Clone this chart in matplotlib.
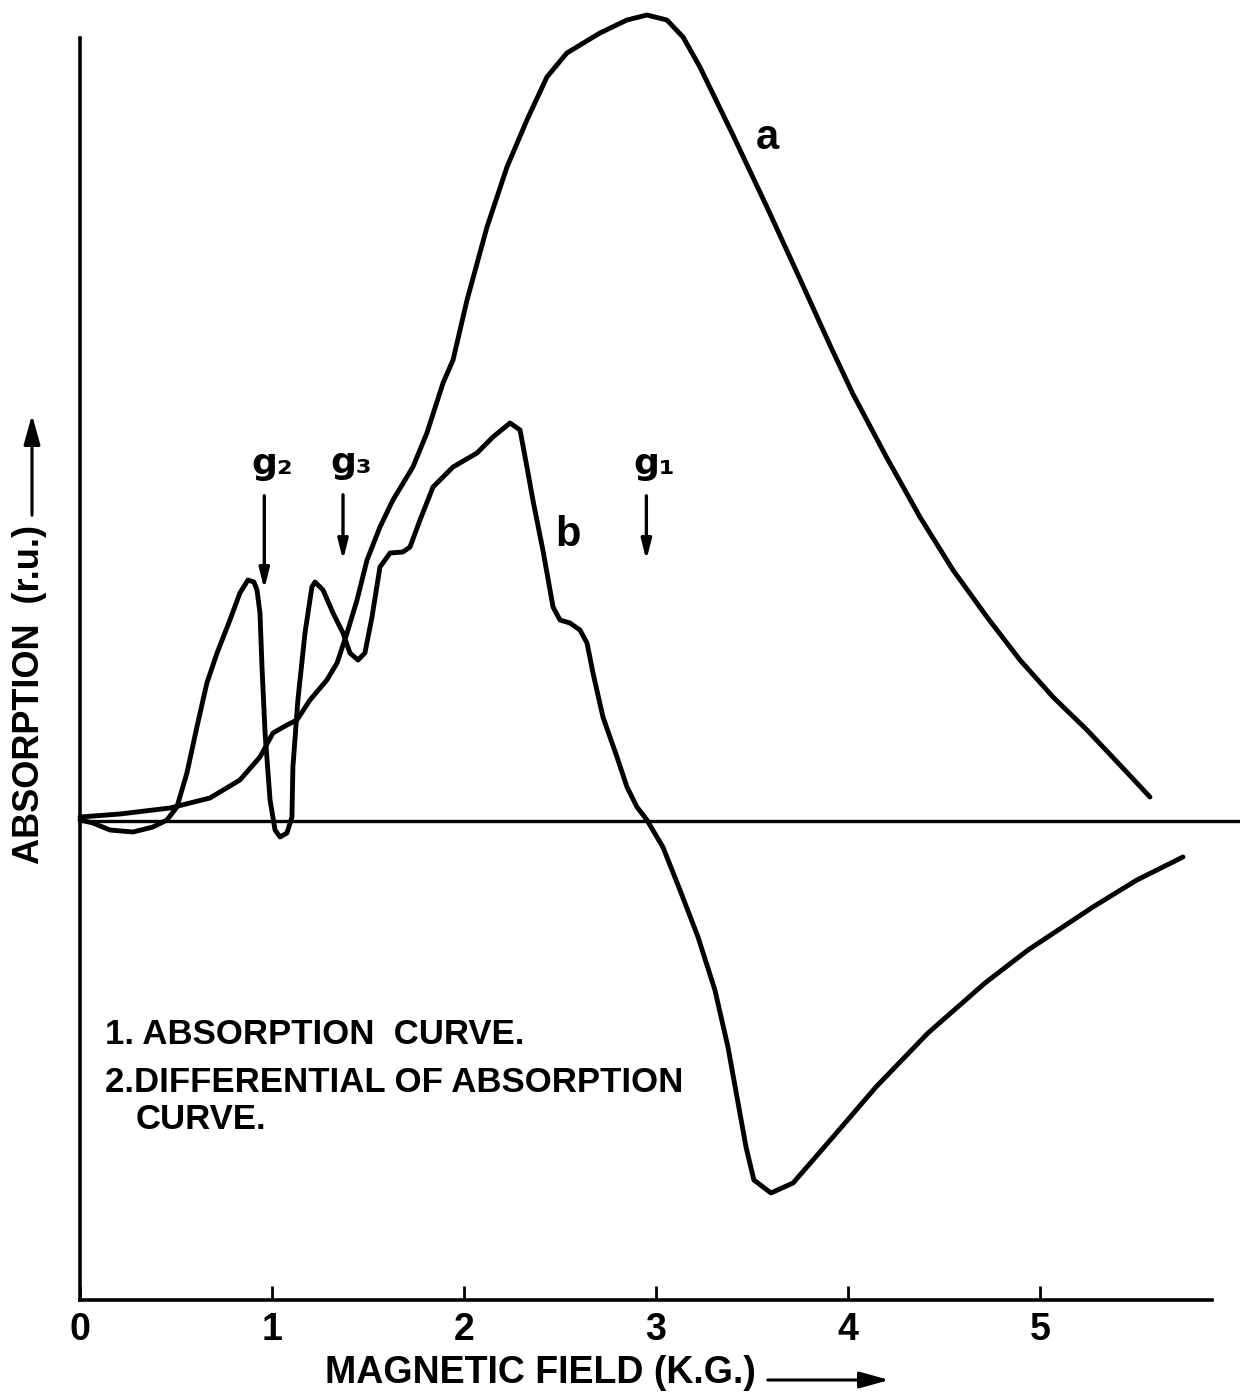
import matplotlib
matplotlib.use("Agg")
import matplotlib.pyplot as plt

plt.rcParams['font.family'] = ['Liberation Sans', 'DejaVu Sans']
plt.rcParams['font.weight'] = 'bold'

# curve a : absorption curve (field in K.G., absorption in r.u.)
field_a = [0.0, 0.208, 0.469, 0.677, 0.833, 0.9375, 1.005, 1.078, 1.130, 1.198,
           1.286, 1.339, 1.391, 1.443, 1.495, 1.5625, 1.630, 1.734, 1.807, 1.891,
           1.943, 2.016, 2.120, 2.224, 2.328, 2.432, 2.536, 2.708, 2.849, 2.953,
           3.057, 3.141, 3.229, 3.401, 3.578, 3.75, 3.906, 4.026, 4.203, 4.375,
           4.547, 4.724, 4.896, 5.068, 5.245, 5.417, 5.573]
absorb_a = [0.04, 0.07, 0.13, 0.23, 0.41, 0.64, 0.88, 0.96, 1.01, 1.21,
            1.41, 1.58, 1.88, 2.21, 2.61, 2.94, 3.21, 3.54, 3.88, 4.38,
            4.61, 5.21, 5.94, 6.54, 7.01, 7.44, 7.68, 7.88, 8.01, 8.06,
            8.01, 7.84, 7.54, 6.86, 6.14, 5.42, 4.76, 4.27, 3.63, 3.04,
            2.51, 2.04, 1.61, 1.24, 0.91, 0.56, 0.24]

# curve b : differential of absorption curve
field_b = [0.0, 0.068, 0.156, 0.276, 0.380, 0.453, 0.505, 0.557, 0.609, 0.661,
           0.714, 0.781, 0.833, 0.875, 0.906, 0.922, 0.9375, 0.948, 0.964, 0.990,
           1.016, 1.042, 1.078, 1.104, 1.109, 1.135, 1.172, 1.208, 1.224, 1.266,
           1.318, 1.370, 1.406, 1.448, 1.484, 1.521, 1.5625, 1.615, 1.682, 1.719,
           1.771, 1.839, 1.943, 2.068, 2.151, 2.240, 2.292, 2.328, 2.359, 2.411,
           2.464, 2.5, 2.552, 2.604, 2.641, 2.672, 2.724, 2.797, 2.849, 2.901,
           2.953, 3.005, 3.036, 3.125, 3.219, 3.307, 3.375, 3.422, 3.469, 3.510,
           3.599, 3.714, 3.922, 4.146, 4.417, 4.714, 4.938, 5.276, 5.505, 5.745]
deriv_b = [0.01, -0.02, -0.09, -0.11, -0.06, 0.01, 0.14, 0.48, 0.94, 1.38,
           1.68, 2.01, 2.28, 2.41, 2.39, 2.31, 2.08, 1.54, 0.88, 0.21,
           -0.09, -0.16, -0.12, 0.04, 0.54, 1.21, 1.88, 2.34, 2.39, 2.31,
           2.08, 1.88, 1.68, 1.61, 1.68, 2.04, 2.54, 2.68, 2.69, 2.74,
           3.01, 3.34, 3.54, 3.68, 3.84, 3.98, 3.91, 3.54, 3.21, 2.71,
           2.14, 2.01, 1.98, 1.91, 1.78, 1.48, 1.04, 0.64, 0.34, 0.14,
           0.01, -0.16, -0.26, -0.69, -1.16, -1.69, -2.26, -2.76, -3.26, -3.59,
           -3.72, -3.62, -3.16, -2.66, -2.12, -1.62, -1.29, -0.86, -0.59, -0.36]

# g-value markers
g_names = ['g\u2082', 'g\u2083', 'g\u2081']
g_field = [0.96, 1.37, 2.95]
g_arrow_top = [3.28, 3.29, 3.28]
g_arrow_tip = [2.29, 2.58, 2.58]

xticks = [0, 1, 2, 3, 4, 5]

fig = plt.figure(figsize=(12.4, 13.92), dpi=100)
ax = fig.add_axes([0.0645, 0.0661, 0.9129, 0.9267])

ax.plot(field_a, absorb_a, color='black', lw=3.5, solid_capstyle='round',
        solid_joinstyle='round', clip_on=False)
ax.plot(field_b, deriv_b, color='black', lw=3.5, solid_capstyle='round',
        solid_joinstyle='round', clip_on=False)

# zero line running past the right end
ax.axhline(0, xmin=0, xmax=1.025, color='black', lw=2.4, clip_on=False)

for name, gx, top, tip in zip(g_names, g_field, g_arrow_top, g_arrow_tip):
    ax.annotate('', xy=(gx, tip), xytext=(gx, top),
                arrowprops=dict(arrowstyle='-|>,head_width=0.3,head_length=1.2',
                                color='black', lw=2.4))
    ax.text(gx + 0.04, top + 0.12, name, fontsize=26, fontweight='bold',
            family=['DejaVu Sans'], ha='center', va='bottom')

ax.text(3.58, 6.83, 'a', fontsize=30, fontweight='bold', ha='center', va='center')
ax.text(2.54, 2.86, 'b', fontsize=30, fontweight='bold', ha='center', va='center')

ax.text(0.13, -2.14, '1. ABSORPTION  CURVE.', fontsize=25, fontweight='bold',
        ha='left', va='center')
ax.text(0.13, -2.62, '2.DIFFERENTIAL OF ABSORPTION', fontsize=25, fontweight='bold',
        ha='left', va='center')
ax.text(0.29, -2.99, 'CURVE.', fontsize=25, fontweight='bold',
        ha='left', va='center')

ax.set_xlim(0, 5.896)
ax.set_ylim(-4.79, 8.11)
ax.set_xticks(xticks)
ax.set_xticklabels([str(t) for t in xticks], fontsize=27, fontweight='bold')
ax.set_yticks([])
ax.tick_params(axis='x', direction='in', length=10, width=2, pad=9)

for side in ['top', 'right']:
    ax.spines[side].set_visible(False)
ax.spines['bottom'].set_linewidth(2.6)
ax.spines['left'].set_linewidth(2.6)
ax.spines['left'].set_bounds(-4.79, 7.83)

# axis titles with arrows
fig.text(325 / 1240, 1 - 1373 / 1392, 'MAGNETIC FIELD (K.G.)', fontsize=27,
         fontweight='bold', ha='left', va='center')
fig.patches.append(matplotlib.patches.FancyArrowPatch(
    (765 / 1240, 1 - 1380 / 1392), (892 / 1240, 1 - 1380 / 1392),
    transform=fig.transFigure, arrowstyle='-|>,head_width=0.25,head_length=0.9',
    color='black', lw=2.2, mutation_scale=20))

fig.text(30 / 1240, 1 - 695 / 1392, 'ABSORPTION  (r.u.)', fontsize=26,
         fontweight='bold', rotation=90, ha='center', va='center')
fig.patches.append(matplotlib.patches.FancyArrowPatch(
    (32 / 1240, 1 - 518 / 1392), (32 / 1240, 1 - 412 / 1392),
    transform=fig.transFigure, arrowstyle='-|>,head_width=0.25,head_length=0.9',
    color='black', lw=2.2, mutation_scale=20))

fig.savefig('out.png', dpi=100)
